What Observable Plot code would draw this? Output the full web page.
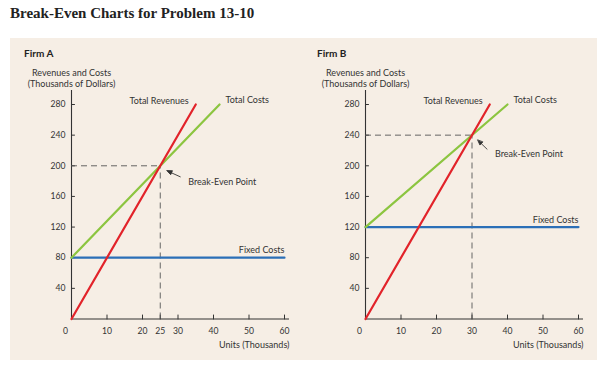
<!DOCTYPE html>
<html><head><meta charset="utf-8">
<script src="https://cdn.jsdelivr.net/npm/d3@7"></script>
<script src="https://cdn.jsdelivr.net/npm/@observablehq/plot@0.6"></script>
<style>
body{margin:0;background:#fff;width:602px;height:366px;position:relative;overflow:hidden;font-family:Lato,sans-serif;}
#title{position:absolute;left:10px;top:5px;font:bold 15px/17px "Liberation Serif",serif;color:#222;white-space:nowrap;}
#panel{position:absolute;left:10px;top:38px;width:587px;height:322px;background:#f6eee5;}
.firm{position:absolute;top:10px;font:bold 10px/11px Lato,sans-serif;color:#222;}
.chart{position:absolute;top:0;width:293px;height:322px;}
</style></head><body>
<div id="title">Break-Even Charts for Problem 13-10</div>
<div id="panel">
  <div class="firm" style="left:14px">Firm A</div>
  <div class="firm" style="left:307px">Firm B</div>
  <div class="chart" id="chartA" style="left:0px"></div>
  <div class="chart" id="chartB" style="left:293.5px"></div>
</div>
<script>
// ---- data ----
const firms = ["Firm A", "Firm B"];
const fixedCostsA = [[0, 80], [60, 80]];
const totalCostsA = [[0, 80], [41.7, 280]];
const totalRevenuesA = [[0, 0], [35, 280]];
const breakEvenA = [[25, 200]];
const fixedCostsB = [[0, 120], [60, 120]];
const totalCostsB = [[0, 120], [40, 280]];
const totalRevenuesB = [[0, 0], [35, 280]];
const breakEvenB = [[30, 240]];
const xTicksA = [0, 10, 20, 25, 30, 40, 50, 60];
const xTicksB = [0, 10, 20, 30, 40, 50, 60];
const yTicks = [40, 80, 120, 160, 200, 240, 280];
const yTitle = "Revenues and Costs\n(Thousands of Dollars)";
const xTitle = "Units (Thousands)";
const labels = ["Total Revenues", "Total Costs", "Fixed Costs", "Break-Even Point"];

const RED = "#e2232a", GREEN = "#8cc540", BLUE = "#2b6fb7", INK = "#333";
const tickShape = {draw(ctx, l) { ctx.moveTo(0, 0); ctx.lineTo(0, -l); }};
const arrowShape = {draw(ctx, l) {
  ctx.moveTo(0, 0); ctx.lineTo(0, -l + 4);
  ctx.moveTo(0, -l); ctx.lineTo(-2, -l + 5); ctx.lineTo(2, -l + 5); ctx.closePath();
}};
const X = d => d[0], Y = d => d[1];

function chart(fixed, cost, rev, be, xTicks, o) {
  return Plot.plot({
    width: 293, height: 322,
    marginLeft: 61, marginRight: 19, marginTop: 66, marginBottom: 41.5,
    x: {domain: [0, 60], axis: null},
    y: {domain: [0, 280], axis: null},
    style: {background: "transparent", fontFamily: "Lato, sans-serif", fontSize: "9px", color: INK, overflow: "visible"},
    marks: [
      // axes
      Plot.ruleY([0], {stroke: INK, strokeWidth: 1.1, insetRight: -5}),
      Plot.ruleX([0], {stroke: INK, strokeWidth: 1.1, insetTop: -14}),
      Plot.vector(yTicks, {x: 0, y: d => d, length: 3, rotate: 90, anchor: "start", shape: tickShape, stroke: INK, strokeWidth: 1}),
      Plot.vector(xTicks.filter(t => t > 0), {x: d => d, y: 0, length: 4, rotate: 0, anchor: "start", shape: tickShape, stroke: INK, strokeWidth: 1}),
      Plot.text(yTicks, {x: 0, y: d => d, text: d => String(d), dx: -6, textAnchor: "end", fontSize: 8.6, fill: INK}),
      Plot.text(xTicks.filter(t => t > 0), {x: d => d, y: 0, text: d => String(d), dy: 12, fontSize: 8.6, fill: INK}),
      Plot.text(xTicks.filter(t => t === 0), {x: d => d, y: 0, text: d => String(d), dx: -6, dy: 12, fontSize: 8.6, fill: INK}),
      Plot.text([yTitle], {frameAnchor: "top-left", lineAnchor: "middle", dy: -26.5, textAnchor: "middle", lineHeight: 1.16, fontSize: 9, fill: INK}),
      Plot.text([xTitle], {frameAnchor: "bottom-right", lineAnchor: "middle", dx: 5, dy: 26.5, textAnchor: "end", fontSize: 9, fill: INK}),
      // break-even guides
      Plot.ruleY(be, {y: Y, x1: 0, x2: X, stroke: "#555", strokeWidth: 0.9, strokeDasharray: "6,4"}),
      Plot.ruleX(be, {x: X, y1: 0, y2: Y, stroke: "#555", strokeWidth: 0.9, strokeDasharray: "6,4"}),
      // lines
      Plot.line(fixed, {x: X, y: Y, stroke: BLUE, strokeWidth: 2.2}),
      Plot.line(cost, {x: X, y: Y, stroke: GREEN, strokeWidth: 2.2}),
      Plot.line(rev, {x: X, y: Y, stroke: RED, strokeWidth: 2.2}),
      // labels
      Plot.text(rev.slice(-1), {x: X, y: Y, text: () => labels[0], dx: -7, dy: -3, textAnchor: "end", fill: INK}),
      Plot.text(cost.slice(-1), {x: X, y: Y, text: () => labels[1], dx: 6, dy: -4, textAnchor: "start", fill: INK}),
      Plot.text(fixed.slice(-1), {x: X, y: Y, text: () => labels[2], dy: o.fixedDy, textAnchor: "end", fill: INK}),
      Plot.text(be, {x: X, y: Y, text: () => labels[3], dx: o.beDx, dy: o.beDy, textAnchor: "start", fill: INK}),
      Plot.vector(be, {x: X, y: Y, length: o.arrLen, rotate: o.arrRot, anchor: "end", dx: o.arrDx, dy: o.arrDy,
        shape: arrowShape, stroke: INK, fill: INK, strokeWidth: 0.8})
    ]
  });
}

document.getElementById("chartA").append(
  chart(fixedCostsA, totalCostsA, totalRevenuesA, breakEvenA, xTicksA,
    {fixedDy: -8, beDx: 28, beDy: 16, arrLen: 14.6, arrRot: -65.7, arrDx: 6.7, arrDy: 5}));
document.getElementById("chartB").append(
  chart(fixedCostsB, totalCostsB, totalRevenuesB, breakEvenB, xTicksB,
    {fixedDy: -7, beDx: 23, beDy: 19, arrLen: 13, arrRot: -46, arrDx: 5.7, arrDy: 5}));
</script>
</body></html>
